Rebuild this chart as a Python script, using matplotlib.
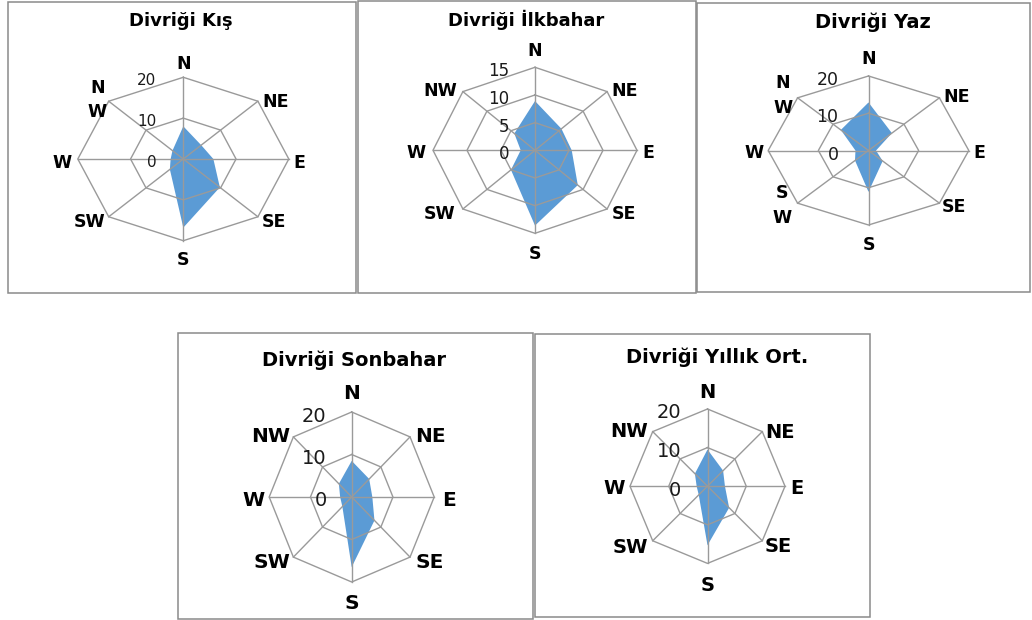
import numpy as np
import matplotlib
matplotlib.use("Agg")
import matplotlib.pyplot as plt
from matplotlib.patches import Rectangle

# ---------------- data ----------------
directions = ['N', 'NE', 'E', 'SE', 'S', 'SW', 'W', 'NW']
kis = [8.0, 4.8, 5.7, 9.8, 16.8, 3.6, 2.4, 2.9]
ilkbahar = [8.9, 5.5, 5.4, 8.9, 13.6, 5.0, 2.1, 4.3]
yaz = [12.9, 6.6, 1.5, 4.0, 11.1, 3.8, 2.6, 7.8]
sonbahar = [8.5, 6.0, 5.0, 7.8, 16.5, 3.2, 2.8, 4.4]
yillik = [9.5, 5.7, 4.5, 7.9, 15.3, 3.2, 2.8, 4.6]

titles = ['Divriği Kış', 'Divriği İlkbahar', 'Divriği Yaz',
          'Divriği Sonbahar', 'Divriği Yıllık Ort.']
ticks_20 = [0, 10, 20]
ticks_15 = [0, 5, 10, 15]

# ---------------- style / layout ----------------
plt.rcParams['font.family'] = ['DejaVu Sans']
W, H = 1032, 620
FILL = '#5B9BD5'
GRID = '#9a9a9a'
FRAME = '#8a8a8a'
PT = 72.0 / 100.0  # px -> points

fig = plt.figure(figsize=(W / 100, H / 100), dpi=100)
fig.patch.set_facecolor('white')

frames = [(7.5, 1.5, 355.5, 293.3), (358.3, 0.8, 695.5, 293.3),
          (696.7, 3.3, 1030.0, 291.7), (178.3, 333.3, 533.0, 619.0),
          (535.0, 334.0, 870.0, 617.3)]
for (x0, y0, x1, y1) in frames:
    fig.add_artist(Rectangle((x0 / W, 1 - y1 / H), (x1 - x0) / W, (y1 - y0) / H,
                             transform=fig.transFigure, fill=False,
                             edgecolor=FRAME, linewidth=1.1))

panels = [
    dict(data=kis, ticks=ticks_20, cx=183.3, cy=159.0, hr=105.5, vr=81.7,
         title_xy=(181, 26), title_fs=13, lab_fs=12.5, tick_fs=11, tick_dx=27,
         labels={'NW': 'N\nW'}, lsp=1.45,
         offs={'N': (0, -15.6), 'NE': (4.8, -1.2), 'E': (4.5, 1.7), 'SE': (3.8, 3.2),
               'S': (0, 17.6), 'SW': (-3.7, 3.2), 'W': (-6, 1.7), 'NW': (-11.5, -1.2)}),
    dict(data=ilkbahar, ticks=ticks_15, cx=535.0, cy=150.3, hr=102.0, vr=83.0,
         title_xy=(526, 26), title_fs=13, lab_fs=12.5, tick_fs=12, tick_dx=26,
         labels={}, lsp=1.3,
         offs={'N': (0, -18), 'NE': (4.6, -2.3), 'E': (5.3, 0.4), 'SE': (4.6, 2.7),
               'S': (0, 18.4), 'SW': (-7.9, 2.7), 'W': (-7.3, 0.4), 'NW': (-6.2, -2.9)}),
    dict(data=yaz, ticks=ticks_20, cx=868.5, cy=150.5, hr=100.3, vr=74.5,
         title_xy=(872.5, 28.3), title_fs=14, lab_fs=12.5, tick_fs=12.5, tick_dx=30,
         labels={'NW': 'N\nW', 'SW': 'S\nW'}, lsp=1.5,
         offs={'N': (0, -18.7), 'NE': (3.9, -2.8), 'E': (4.5, 0.2), 'SE': (2.3, 1.8),
               'S': (0, 18.3), 'SW': (-15.1, 2.6), 'W': (-4.9, 0.2), 'NW': (-14.6, -2.8)}),
    dict(data=sonbahar, ticks=ticks_20, cx=351.7, cy=497.0, hr=82.5, vr=85.0,
         title_xy=(354, 366), title_fs=14, lab_fs=14.5, tick_fs=14, tick_dx=25,
         labels={}, lsp=1.3,
         offs={'N': (0, -20.3), 'NE': (5, -1.9), 'E': (7.5, 1.3), 'SE': (5, 2.9),
               'S': (0, 19.7), 'SW': (-3.4, 2.9), 'W': (-4.9, 1.3), 'NW': (-3.4, -1.9)}),
    dict(data=yillik, ticks=ticks_20, cx=707.5, cy=486.2, hr=77.5, vr=77.2,
         title_xy=(717.5, 363.3), title_fs=14, lab_fs=14, tick_fs=14, tick_dx=26,
         labels={}, lsp=1.3,
         offs={'N': (0, -19), 'NE': (2.7, -1.6), 'E': (5, 0.5), 'SE': (2.7, 4.2),
               'S': (0, 19.9), 'SW': (-4.4, 5.2), 'W': (-5, 0.5), 'NW': (-4.4, -2.3)}),
]

ha_map = {'N': 'center', 'NE': 'left', 'E': 'left', 'SE': 'left',
          'S': 'center', 'SW': 'right', 'W': 'right', 'NW': 'right'}

theta = np.arange(len(directions)) * 2 * np.pi / len(directions)
theta_c = np.append(theta, theta[0])

for p, title in zip(panels, titles):
    cx, cy, hr, vr = p['cx'], p['cy'], p['hr'], p['vr']
    ax = fig.add_axes([(cx - hr) / W, 1 - (cy + vr) / H, 2 * hr / W, 2 * vr / H],
                      projection='polar')
    ax.set_aspect('auto')
    ax.set_theta_zero_location('N')
    ax.set_theta_direction(-1)
    rmax = p['ticks'][-1]
    ax.set_ylim(0, rmax)
    ax.set_axis_off()

    vals = np.append(p['data'], p['data'][0])
    ax.fill(theta_c, vals, color=FILL, linewidth=0, zorder=1)

    for r in p['ticks'][1:]:
        ax.plot(theta_c, [r] * len(theta_c), color=GRID, lw=1.0, zorder=2,
                clip_on=False)
    for t in theta:
        ax.plot([t, t], [0, rmax], color=GRID, lw=1.0, zorder=2, clip_on=False)

    for r in p['ticks']:
        ax.annotate(str(r), xy=(0, r), xytext=(-p['tick_dx'] * PT, -2 * PT),
                    textcoords='offset points', ha='right', va='center_baseline',
                    fontsize=p['tick_fs'], color='#1a1a1a', zorder=3,
                    annotation_clip=False)

    for d, t in zip(directions, theta):
        txt = p['labels'].get(d, d)
        dx, dy = p['offs'][d]
        multi = '\n' in txt
        ax.annotate(txt, xy=(t, rmax), xytext=(dx * PT, -dy * PT),
                    textcoords='offset points',
                    ha='center' if multi else ha_map[d],
                    va='center' if multi else 'center_baseline',
                    multialignment='center', linespacing=p['lsp'],
                    fontsize=p['lab_fs'], fontweight='bold', color='black',
                    zorder=3, annotation_clip=False)

    fig.text(p['title_xy'][0] / W, 1 - p['title_xy'][1] / H, title,
             ha='center', va='baseline', fontsize=p['title_fs'],
             fontweight='bold', color='black')

fig.savefig('out.png', dpi=100, facecolor='white')
